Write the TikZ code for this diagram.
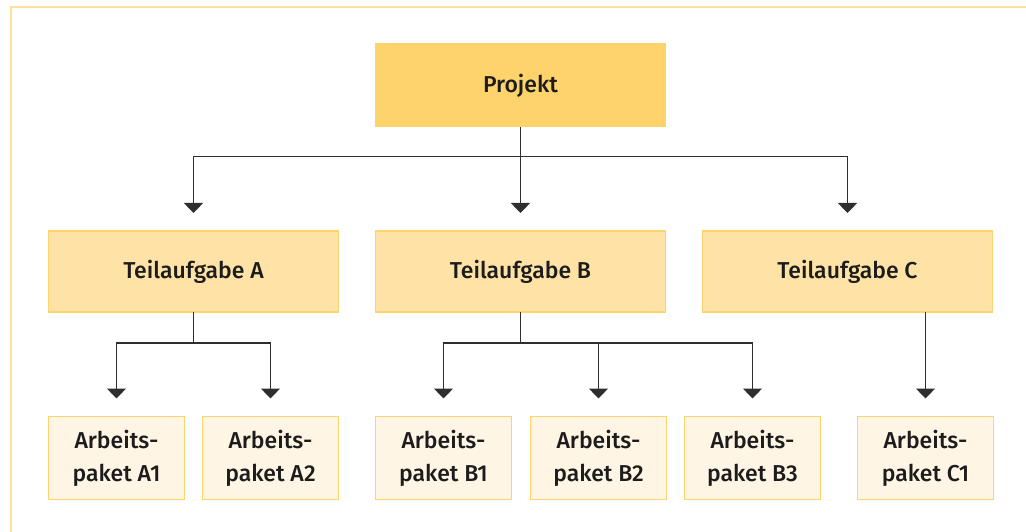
\documentclass[tikz,border=0pt]{standalone}
\usepackage{fontspec}
\setmainfont{Fira Sans}[UprightFont=* Medium]
\usetikzlibrary{arrows.meta,calc}
\definecolor{framecol}{HTML}{FFE29A}
\definecolor{topfill}{HTML}{FFD36B}
\definecolor{midfill}{HTML}{FFE3A6}
\definecolor{lowfill}{HTML}{FFF5E4}
\definecolor{boxline}{HTML}{FFD46E}
\definecolor{ink}{HTML}{1C1C1C}
\definecolor{wire}{HTML}{2E2E2E}
\tikzset{
  x=1pt, y=1pt,
  every node/.style={font=\fontsize{23}{33}\selectfont, text=ink, inner sep=0pt, outer sep=0pt},
  topbox/.style={fill=topfill, minimum width=291pt, minimum height=84pt},
  midbox/.style={fill=midfill, draw=boxline, line width=1.2pt, minimum width=290pt, minimum height=81pt},
  lowbox/.style={fill=lowfill, draw=boxline, line width=1.2pt, minimum width=136pt, minimum height=83pt, align=center},
  wireline/.style={draw=wire, line width=1.3pt},
  link/.style={wireline, -{Triangle[width=19pt,length=10pt]}},
}
\begin{document}
\begin{tikzpicture}
\useasboundingbox (0,0) rectangle (1026,531);
\begin{scope}
\clip (0,0) rectangle (1026,531);
\draw[framecol, line width=2.2pt] (11,-20) -- (11,524) -- (1050,524);
\end{scope}

% levels
\node[topbox] (P) at (520.5,445.5) {Projekt};

\node[midbox] (TA) at (193.5,259.5) {Teilaufgabe A};
\node[midbox] (TB) at (520.5,259.5) {Teilaufgabe B};
\node[midbox] (TC) at (847.5,259.5) {Teilaufgabe C};

\node[lowbox] (A1) at (116.5,73) {Arbeits-\\paket A1};
\node[lowbox] (A2) at (270.5,73) {Arbeits-\\paket A2};
\node[lowbox] (B1) at (443.5,73) {Arbeits-\\paket B1};
\node[lowbox] (B2) at (598.5,73) {Arbeits-\\paket B2};
\node[lowbox] (B3) at (752.5,73) {Arbeits-\\paket B3};
\node[lowbox] (C1) at (925.5,73) {Arbeits-\\paket C1};

% connectors
\coordinate (Pj) at ($(P.south)+(0,-29)$);
\draw[wireline] (P.south) -- (Pj);
\foreach \t in {TA,TB,TC}
  \draw[link] (Pj) -| ([yshift=18pt]\t.north);

\coordinate (Aj) at ($(TA.south)+(0,-31)$);
\draw[wireline] (TA.south) -- (Aj);
\foreach \t in {A1,A2}
  \draw[link] (Aj) -| ([yshift=18pt]\t.north);

\coordinate (Bj) at ($(TB.south)+(0,-31)$);
\draw[wireline] (TB.south) -- (Bj);
\foreach \t in {B1,B2,B3}
  \draw[link] (Bj) -| ([yshift=18pt]\t.north);

\draw[link] (TC.south -| C1.north) -- ([yshift=18pt]C1.north);
\end{tikzpicture}
\end{document}
